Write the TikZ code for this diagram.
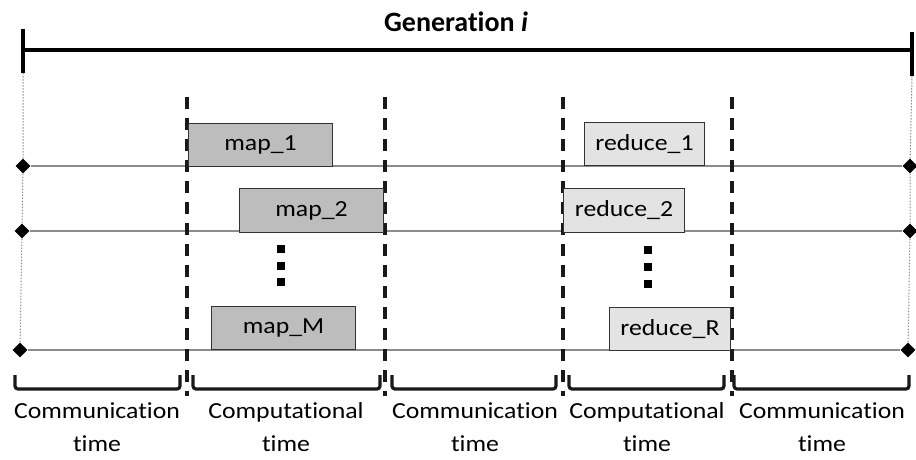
\documentclass[tikz,border=0pt]{standalone}
\usepackage{fontspec}
\setmainfont{Carlito}[Ligatures=CommonOff]
\newfontfamily\widefont{Carlito}[FakeStretch=1.12, Ligatures=CommonOff]
\usetikzlibrary{shapes.geometric}
\begin{document}
\begin{tikzpicture}[x=1pt,y=-1pt,
  boxbase/.style={draw=black!80, line width=1pt, inner sep=0pt, anchor=north west, font=\widefont\fontsize{23}{27}\selectfont},
  mapbox/.style={boxbase, fill=black!26, minimum width=144pt, minimum height=43pt},
  redbox/.style={boxbase, fill=black!11, minimum width=121pt, minimum height=43pt},
  dia/.style={diamond, fill=black, inner sep=0pt, minimum size=15pt},
  dotsq/.style={rectangle, fill=black, inner sep=0pt, minimum size=7.5pt},
  gline/.style={draw=black!45, line width=1.1pt},
  vdot/.style={draw=black!45, line width=1pt, dash pattern=on 1.5pt off 1.5pt},
  sep/.style={draw=black!90, line width=3.4pt, dash pattern=on 12pt off 9pt},
  brk/.style={draw=black!90, line width=3.2pt, rounded corners=3pt},
  lbl/.style={align=center, font=\widefont\fontsize{23}{33}\selectfont, inner sep=0pt, anchor=north}
]
\useasboundingbox[fill=white] (0,0) rectangle (916,459);

% title and generation bar
\node[font=\fontsize{28}{32}\selectfont\bfseries, anchor=base] (title) at (456,31) {Generation \textit{i}};
\coordinate (tlt) at (23,29);  \coordinate (tlb) at (23,73);
\coordinate (trt) at (912,32); \coordinate (trb) at (912,76);
\draw[line width=3.5pt] (tlt) -- (tlb);
\draw[line width=3.5pt] (trt) -- (trb);
\draw[line width=3.4pt] (23,50) coordinate (bl) -- (912,50) coordinate (br);

% diamonds
\node[dia] (L1) at (23,166) {};
\node[dia] (L2) at (22,231) {};
\node[dia] (L3) at (20,350) {};
\node[dia] (R1) at (910,166) {};
\node[dia] (R2) at (910,231) {};
\node[dia] (R3) at (908,350) {};

% dotted verticals
\draw[vdot] (tlb) -- (L1) -- (L2) -- (L3);
\draw[vdot] (trb) -- (R1) -- (R2) -- (R3);

% grey time lines
\draw[gline] (L1) -- (R1);
\draw[gline] (L2) -- (R2);
\draw[gline] (L3) -- (R3);

% dashed separators
\foreach \x/\n in {187/a,385/b,563/c,732/d}{
  \coordinate (s\n t) at (\x,97);
  \coordinate (s\n b) at (\x,396);
  \draw[sep] (s\n t) -- (s\n b);
}

% map boxes
\node[mapbox] (m1) at (188,123) {map\_1};
\node[mapbox, minimum height=44pt] (m2) at (239,188) {map\_2};
\node[mapbox] (mM) at (211,306) {map\_M};
% reduce boxes
\node[redbox, minimum width=120pt] (r1) at (584,122) {reduce\_1};
\node[redbox, minimum height=44pt] (r2) at (563,188) {reduce\_2};
\node[redbox] (rR) at (609,307) {reduce\_R};

% vertical ellipses
\node[dotsq] (md1) at (281,249) {};
\node[dotsq] (md2) at (281,266) {};
\node[dotsq] (md3) at (281,282) {};
\node[dotsq] (rd1) at (648,250) {};
\node[dotsq] (rd2) at (648,267) {};
\node[dotsq] (rd3) at (648,284) {};

% brackets
\foreach \a/\b/\n in {15/180/1,193/380/2,392/556/3,569/724/4,734/909/5}{
  \coordinate (k\n l) at (\a,375);
  \coordinate (k\n r) at (\b,375);
  \draw[brk] (k\n l) -- (\a,389) -- (\b,389) -- (k\n r);
}

% labels
\node[lbl] (t1) at (97,402) {Communication\\time};
\node[lbl] (t2) at (286,402) {Computational\\time};
\node[lbl] (t3) at (475,402) {Communication\\time};
\node[lbl] (t4) at (647,402) {Computational\\time};
\node[lbl] (t5) at (822,402) {Communication\\time};
\end{tikzpicture}
\end{document}
